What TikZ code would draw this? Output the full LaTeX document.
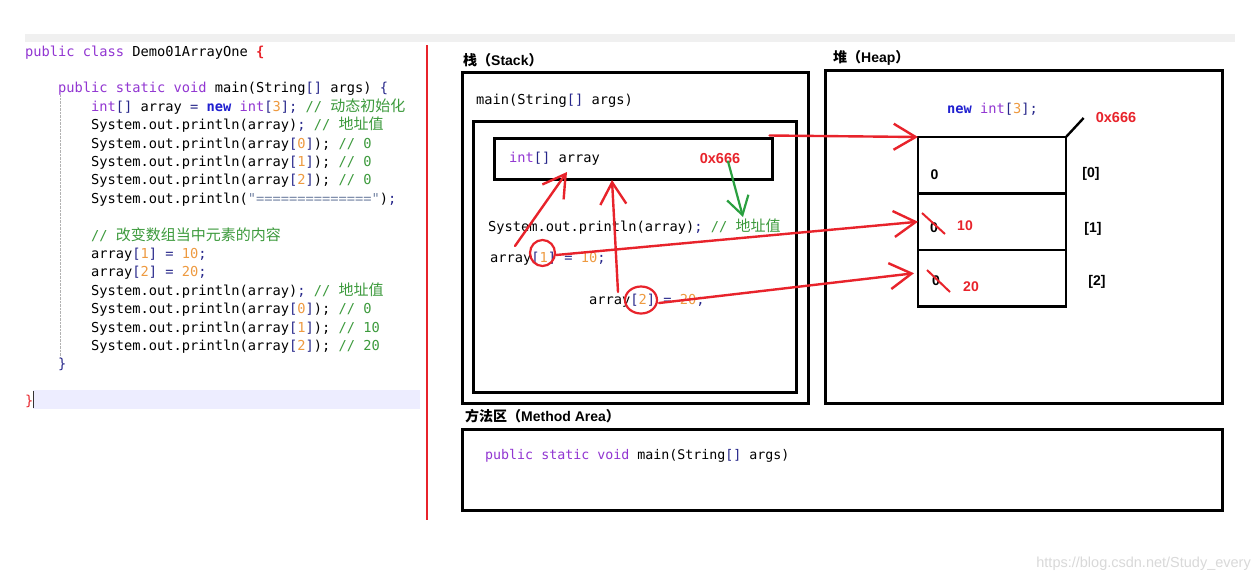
\documentclass[tikz,border=0pt]{standalone}
\usepackage{fontspec}
\setmainfont{Liberation Sans}
\setmonofont{DejaVu Sans Mono}
\newfontfamily\cjk{Noto Sans CJK SC}
\usetikzlibrary{positioning,arrows.meta,shapes.geometric}
\definecolor{cKw}{HTML}{9236D2}
\definecolor{cNew}{HTML}{2020D0}
\definecolor{cNum}{HTML}{EE9A40}
\definecolor{cPun}{HTML}{26268A}
\definecolor{cCom}{HTML}{3C9A3C}
\definecolor{cStr}{HTML}{7484A4}
\definecolor{cRed}{HTML}{E8232B}
\definecolor{cGrn}{HTML}{2AA040}
\newcommand\kw[1]{\textcolor{cKw}{#1}}
\newcommand\nw[1]{\textcolor{cNew}{\bfseries #1}}
\newcommand\nm[1]{\textcolor{cNum}{#1}}
\newcommand\pu[1]{\textcolor{cPun}{#1}}
\newcommand\cm[1]{\textcolor{cCom}{#1}}
\newcommand\zh[1]{{\cjk\fontsize{15}{15}\selectfont #1}}
\newcommand\codefont{\ttfamily\fontsize{13.7}{14}\selectfont}
\tikzset{
  code/.style={anchor=base west,inner sep=0pt,font=\codefont},
  lbl/.style={anchor=base west,inner sep=0pt,font=\bfseries\fontsize{14}{14}\selectfont},
  hexred/.style={inner sep=0pt,text=cRed,font=\bfseries\fontsize{14.5}{14}\selectfont},
  val/.style={inner sep=0pt,font=\bfseries\fontsize{14}{14}\selectfont},
  box/.style={draw,line width=3pt},
  cell/.style={draw,line width=2.6pt,minimum width=148pt,minimum height=56.5pt,inner sep=0pt,outer sep=0pt},
  redarr/.style={draw=cRed,line width=2.4pt,line cap=round,-{Straight Barb[length=22pt,width=26pt]}},
  grnarr/.style={draw=cGrn,line width=2.2pt,line cap=round,-{Straight Barb[length=18pt,width=22pt]}},
  ring/.style={ellipse,draw=cRed,line width=2.2pt,inner sep=0pt}}

\begin{document}
\begin{tikzpicture}[x=1pt,y=-1pt]
\useasboundingbox[fill=white] (0,0) rectangle (1259,579);
% editor side
\fill[black!6] (25,34) rectangle (1235,42);
\fill[blue!7] (33,390) rectangle (420,409);
\draw[black!30,densely dotted] (60,95) -- (60,357);
\node[code] (l0) at (25,56) {\kw{public} \kw{class} Demo01ArrayOne \textcolor{cRed}{\bfseries\{}};
\node[code] (l2) at (58,92.8) {\kw{public} \kw{static} \kw{void} main(String\pu{[]} args) \pu{\{}};
\node[code] (l3) at (91,111.2) {\kw{int}\pu{[]} array \pu{=} \nw{new} \kw{int}\pu{[}\nm{3}\pu{];} \cm{// \zh{动态初始化}}};
\node[code] (l4) at (91,129.6) {System.out.println(array)\pu{;} \cm{// \zh{地址值}}};
\node[code] (l5) at (91,148) {System.out.println(array\pu{[}\nm{0}\pu{]});\ \cm{// 0}};
\node[code] (l6) at (91,166.4) {System.out.println(array\pu{[}\nm{1}\pu{]});\ \cm{// 0}};
\node[code] (l7) at (91,184.8) {System.out.println(array\pu{[}\nm{2}\pu{]});\ \cm{// 0}};
\node[code] (l8) at (91,203.2) {System.out.println(\textcolor{cStr}{"=============="})\pu{;}};
\node[code] (l10) at (91,240) {\cm{// \zh{改变数组当中元素的内容}}};
\node[code] (l11) at (91,258.4) {array\pu{[}\nm{1}\pu{]} \pu{=} \nm{10}\pu{;}};
\node[code] (l12) at (91,276.8) {array\pu{[}\nm{2}\pu{]} \pu{=} \nm{20}\pu{;}};
\node[code] (l13) at (91,295.2) {System.out.println(array)\pu{;} \cm{// \zh{地址值}}};
\node[code] (l14) at (91,313.6) {System.out.println(array\pu{[}\nm{0}\pu{]});\ \cm{// 0}};
\node[code] (l15) at (91,332) {System.out.println(array\pu{[}\nm{1}\pu{]});\ \cm{// 10}};
\node[code] (l16) at (91,350.4) {System.out.println(array\pu{[}\nm{2}\pu{]});\ \cm{// 20}};
\node[code] (l17) at (58,368.8) {\pu{\}}};
\node[code] (l19) at (25,405.2) {\textcolor{cRed}{\}}};
\draw[black!80,line width=0.8pt] (33,391) -- (33,408);
\draw[cRed,line width=2.5pt] (427,45) -- (427,520);
% stack
\node[lbl] (stk) at (463,65) {{\cjk\bfseries 栈（}Stack{\cjk\bfseries ）}};
\draw[box] (462,72) rectangle (808,403);
\node[code] (mainf) at (476,104) {main(String\pu{[]} args)};
\draw[box] (473,121) rectangle (796,392);
\node[box,minimum width=278pt,minimum height=41pt,inner sep=0pt] (arrbox) at (633,158.5) {};
\node[code] (arrvar) at (509,162) {\kw{int}\pu{[]} array};
\node[hexred] (hs) at (720,159) {0x666};
\node[code] (prt) at (488,231) {System.out.println(array)\pu{;} \cm{// \zh{地址值}}};
\node[code] (as1) at (490,262) {array\pu{[}\nm{1}\pu{]} \pu{=} \nm{10}\pu{;}};
\node[code] (as2) at (589,304) {array\pu{[}\nm{2}\pu{]} \pu{=} \nm{20}\pu{;}};
% heap
\node[lbl] (hp) at (833,62) {{\cjk\bfseries 堆（}Heap{\cjk\bfseries ）}};
\draw[box] (825,70) rectangle (1222,403);
\node[code] (newarr) at (947,113) {\nw{new} \kw{int}\pu{[}\nm{3}\pu{];}};
\node[cell,anchor=north west] (cell0) at (918,137) {};
\node[cell,below=0pt of cell0] (cell1) {};
\node[cell,below=0pt of cell1] (cell2) {};
\node[hexred] (hh) at (1116,118) {0x666};
\node[val] (v0) at (934.5,175) {0};
\node[val] (v1) at (934,228) {0};
\node[val] (v2) at (936,281) {0};
\node[val,text=cRed] (n1) at (965,226) {10};
\node[val,text=cRed] (n2) at (971,287) {20};
\node[val] (i0) at (1091,174) {[0]};
\node[val] (i1) at (1093,229) {[1]};
\node[val] (i2) at (1097,282) {[2]};
\draw[line width=2.4pt] (cell0.north east) -- ([xshift=-12pt]hh.west);
\draw[cRed,line width=2pt] (922,213) -- (945,234);
\draw[cRed,line width=2pt] (927,270) -- (950,292);
% method area
\node[lbl] (ma) at (465,421) {{\cjk\bfseries 方法区（}Method Area{\cjk\bfseries ）}};
\node[box,minimum width=760pt,minimum height=81pt,inner sep=0pt] (mbox) at (842,469.5) {};
\node[code,font=\ttfamily\fontsize{13.3}{14}\selectfont] (msig) at (485,459) {\kw{public} \kw{static} \kw{void} main(String\pu{[]} args)};
% references
\node[ring,minimum width=25pt,minimum height=26pt] (c1) at (542.5,253) {};
\node[ring,minimum width=32pt,minimum height=27pt] (c2) at (641,300) {};
\coordinate (p1) at (515,246);
\coordinate (q1) at (567,172);
\coordinate (p2) at (618,292);
\coordinate (q2) at (612,180);
\coordinate (g2) at (743,217);
\draw[redarr] ([xshift=-4pt,yshift=1pt]arrbox.north east) -- (cell0.north west);
\draw[redarr] ([yshift=-2pt]c1.east) -- (cell1.west);
\draw[redarr] ([xshift=1pt,yshift=-3pt]c2.east) -- ([xshift=-4pt,yshift=5pt]cell2.west);
\draw[redarr] (p1) -- (q1);
\draw[redarr] (p2) -- (q2);
\draw[grnarr] ([xshift=8pt,yshift=3pt]hs.south) -- (g2);
\node[anchor=base east,inner sep=0pt,text=black!15,font=\fontsize{14.5}{15}\selectfont] (wm) at (1251,567) {https://blog.csdn.net/Study\_every};
\end{tikzpicture}
\end{document}
